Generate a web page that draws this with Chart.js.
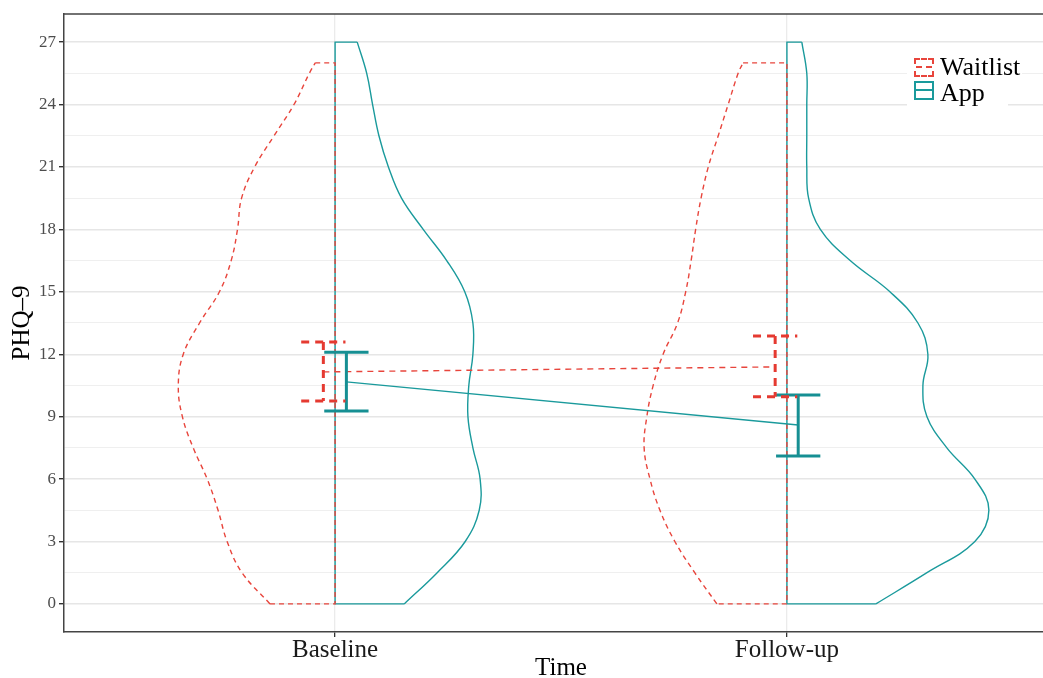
<!DOCTYPE html>
<html><head><meta charset="utf-8">
<script src="https://cdn.jsdelivr.net/npm/chart.js@4"></script>
<style>
html,body{margin:0;padding:0;overflow:hidden;background:#fff;width:1043px;height:678px}
#wrap{position:relative;width:1060px;height:678px}
#legend{position:absolute;left:907px;top:50px;width:101px;height:60px;background:#fff;font-family:"Liberation Serif",serif;font-size:26px;color:#000}
.row{position:absolute;left:0;height:26px;line-height:26px;white-space:nowrap}
.row span{position:absolute;left:33px;top:0;background:#fff;padding-right:2px}
.key{position:absolute;left:7px;width:20px;height:19px;box-sizing:border-box}
.key.w{border:2px dashed #E8453C;top:4px}
.key.a{border:2px solid #1A9A9C;top:1px}
.key.w::after{content:'';position:absolute;left:0;right:0;top:6px;border-top:2px dashed #E8453C}
.key.a::after{content:'';position:absolute;left:0;right:0;top:6px;border-top:2px solid #1A9A9C}
</style>
</head><body>
<div id="wrap">
<canvas id="c" width="1060" height="678" style="width:1060px;height:678px"></canvas>
<div id="legend">
  <div class="row" style="top:4px"><div class="key w"></div><span>Waitlist</span></div>
  <div class="row" style="top:30px"><div class="key a"></div><span>App</span></div>
</div>
</div>
<script>
// ---- data ----
const categories = ['Baseline', 'Follow-up'];
const groups = ['Waitlist', 'App'];
const yTickValues = [0, 3, 6, 9, 12, 15, 18, 21, 24, 27];

// violin outlines: PHQ-9 levels and half-widths (category units)
const blWaitY = [0,1.5,3,4.5,6,7.5,9,10.5,12,13.5,15,16.5,18,19.5,21,22.5,24,25.5,26];
const blWaitW = [0.144,0.206,0.239,0.259,0.283,0.314,0.338,0.347,0.336,0.300,0.256,0.230,0.216,0.207,0.178,0.135,0.091,0.057,0.044];
const blAppY  = [0,1.5,3,4.5,6,7.5,9,10.5,12,13.5,15,16.5,18,19.5,21,22.5,24,25.5,27];
const blAppW  = [0.153,0.226,0.288,0.319,0.321,0.305,0.294,0.296,0.305,0.305,0.287,0.247,0.195,0.147,0.118,0.097,0.083,0.070,0.049];
const fuWaitY = [0,1.5,3,4.5,6,7.5,9,10.5,12,13.5,15,16.5,18,19.5,21,22.5,24,25.5,26];
const fuWaitW = [0.155,0.204,0.248,0.281,0.303,0.316,0.310,0.296,0.274,0.242,0.224,0.212,0.202,0.190,0.174,0.152,0.130,0.108,0.097];
const fuAppY  = [0,1.5,3,4.5,6,7.5,9,10.5,12,13.5,15,16.5,18,19.5,21,22.5,24,25.5,27];
const fuAppW  = [0.197,0.310,0.416,0.447,0.416,0.354,0.310,0.301,0.312,0.290,0.228,0.140,0.074,0.048,0.044,0.044,0.044,0.044,0.033];

// means and confidence intervals
const waitMean = [11.15, 11.39];
const waitLo   = [9.75, 9.95];
const waitHi   = [12.59, 12.88];
const appMean  = [10.67, 8.6];
const appLo    = [9.27, 7.11];
const appHi    = [12.1, 10.04];

// ---- style ----
const RED = '#E8453C', TEAL = '#1A9A9C', TEAL_D = '#168F93', RED_D = '#E53A31';
const SERIF = '"Liberation Serif", "Times New Roman", serif';
const dodge = [-0.026, 0.025];
const capHalf = 0.049;

function violin(center, ys, ws, sign, color, dash) {
  const n = ys.length;
  const curve = ys.map((y, i) => ({x: center + sign * ws[i], y}));
  const frame = [
    {x: center + sign * ws[n-1], y: ys[n-1]},
    {x: center, y: ys[n-1]},
    {x: center, y: ys[0]},
    {x: center + sign * ws[0], y: ys[0]}
  ];
  const base = {borderColor: color, borderWidth: 1.4, borderDash: dash, pointRadius: 0, fill: false};
  return [
    Object.assign({data: curve, tension: 0.4}, base),
    Object.assign({data: frame, tension: 0}, base)
  ];
}
function errbar(xc, lo, hi, color, dash, width) {
  return {
    data: [
      {x: xc - capHalf, y: hi}, {x: xc + capHalf, y: hi}, {x: xc, y: null},
      {x: xc, y: hi}, {x: xc, y: lo}, {x: xc, y: null},
      {x: xc - capHalf, y: lo}, {x: xc + capHalf, y: lo}
    ],
    borderColor: color, borderWidth: width, borderDash: dash, pointRadius: 0, tension: 0, spanGaps: false, fill: false
  };
}

const datasets = [];
categories.forEach((c, i) => {
  const xc = i + 1;
  datasets.push(errbar(xc + dodge[0], waitLo[i], waitHi[i], RED_D, [8, 6], 3));
  datasets.push(errbar(xc + dodge[1], appLo[i], appHi[i], TEAL_D, [], 3));
});
datasets.push({data: categories.map((c, i) => ({x: i + 1 + dodge[0], y: waitMean[i]})), borderColor: RED, borderWidth: 1.4, borderDash: [6, 5], pointRadius: 0, fill: false});
datasets.push({data: categories.map((c, i) => ({x: i + 1 + dodge[1], y: appMean[i]})), borderColor: TEAL, borderWidth: 1.4, pointRadius: 0, fill: false});
datasets.push(...violin(1, blWaitY, blWaitW, -1, RED, [5, 4]));
datasets.push(...violin(2, fuWaitY, fuWaitW, -1, RED, [5, 4]));
datasets.push(...violin(1, blAppY, blAppW, 1, TEAL, []));
datasets.push(...violin(2, fuAppY, fuAppW, 1, TEAL, []));

const frameTop = {
  id: 'frameTop',
  afterDatasetsDraw(chart) {
    const {ctx, chartArea: a} = chart;
    ctx.save();
    ctx.strokeStyle = '#444'; ctx.lineWidth = 1.5;
    ctx.beginPath();
    ctx.moveTo(a.left, a.top); ctx.lineTo(a.right, a.top); ctx.lineTo(a.right, a.bottom);
    ctx.stroke();
    ctx.restore();
  }
};

new Chart(document.getElementById('c'), {
  type: 'line',
  data: {datasets},
  plugins: [frameTop],
  options: {
    responsive: false,
    animation: false,
    events: [],
    layout: {padding: {top: 14, right: 2, left: 0, bottom: 0}},
    plugins: {legend: {display: false}, tooltip: {enabled: false}, title: {display: false}},
    scales: {
      x: {
        type: 'linear', min: 0.4, max: 2.6,
        afterBuildTicks: s => { s.ticks = categories.map((c, i) => ({value: i + 1})); },
        afterFit: s => { s.height = 46; },
        ticks: {
          callback: v => categories[Math.round(v) - 1] || '',
          font: {family: SERIF, size: 25, lineHeight: 1}, color: '#1a1a1a', padding: 1, maxRotation: 0, autoSkip: false
        },
        grid: {color: '#ebebeb', lineWidth: 1.3, tickLength: 5, tickColor: '#333'},
        border: {display: true, color: '#444', width: 1.5},
        title: {display: true, text: 'Time', font: {family: SERIF, size: 25, lineHeight: 0.8}, color: '#000', padding: {top: 0, bottom: 0}}
      },
      y: {
        type: 'linear', min: -1.35, max: 28.35,
        afterFit: s => { s.width = 64; },
        ticks: {
          stepSize: 1.5, includeBounds: false,
          callback: v => yTickValues.includes(Math.round(v * 100) / 100) ? String(v) : '',
          font: {family: SERIF, size: 17}, color: '#4d4d4d', padding: 3
        },
        grid: {
          color: c => (c.tick && yTickValues.includes(c.tick.value)) ? '#e6e6e6' : '#efefef',
          lineWidth: c => (c.tick && yTickValues.includes(c.tick.value)) ? 1.4 : 1.1,
          tickColor: c => (c.tick && yTickValues.includes(c.tick.value)) ? '#333' : 'rgba(0,0,0,0)',
          tickLength: 5
        },
        border: {display: true, color: '#444', width: 1.5},
        title: {display: true, text: 'PHQ–9', font: {family: SERIF, size: 25, lineHeight: 1}, color: '#000', padding: {top: 10, bottom: 0}}
      }
    }
  }
});
</script>
</body></html>
